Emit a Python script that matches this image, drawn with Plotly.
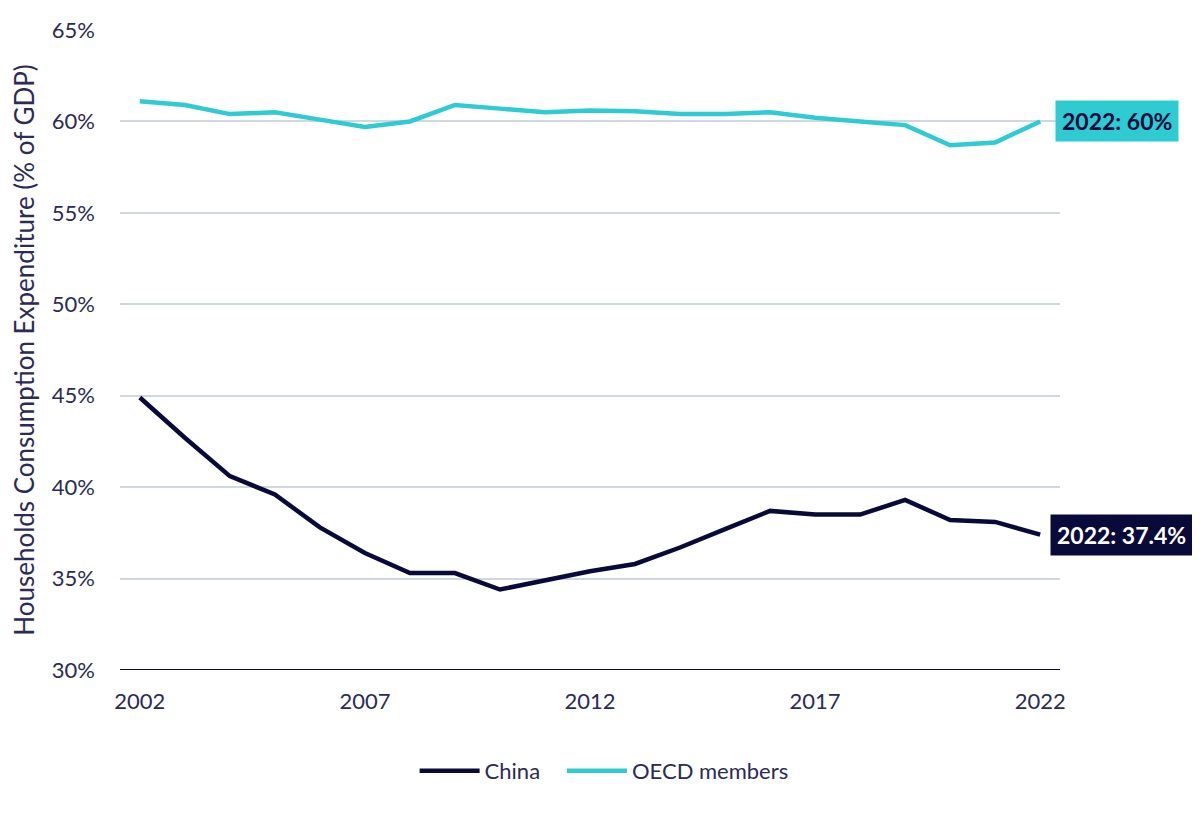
import plotly.graph_objects as go

# household consumption expenditure, % of GDP
years = list(range(2002, 2023))
china = [44.9, 42.7, 40.6, 39.6, 37.8, 36.4, 35.3, 35.3, 34.4, 34.9, 35.4,
         35.8, 36.7, 37.7, 38.7, 38.5, 38.5, 39.3, 38.2, 38.1, 37.4]
oecd = [61.1, 60.9, 60.4, 60.5, 60.1, 59.7, 60.0, 60.9, 60.7, 60.5, 60.6,
        60.55, 60.4, 60.4, 60.5, 60.2, 60.0, 59.8, 58.7, 58.85, 60.0]

y_ticks = [30, 35, 40, 45, 50, 55, 60, 65]
x_ticks = [2002, 2007, 2012, 2017, 2022]

navy = "#0a0a3a"
cyan = "#2ecbd3"
txt = "#2b2b55"

fig = go.Figure()
# trailing nbsp just widens the gap between the two legend entries
fig.add_trace(go.Scatter(x=years, y=china, name="China\u00a0\u00a0\u00a0",
                         mode="lines", line=dict(color=navy, width=4.5)))
fig.add_trace(go.Scatter(x=years, y=oecd, name="OECD members", mode="lines",
                         line=dict(color=cyan, width=4.5)))

fig.add_annotation(x=years[-1], y=oecd[-1], text="<b>2022: 60%</b>",
                   showarrow=False, xanchor="left", xshift=15,
                   bgcolor=cyan, font=dict(color=navy, size=23),
                   borderpad=6)
fig.add_annotation(x=years[-1], y=china[-1], text="<b>2022: 37.4%</b>",
                   showarrow=False, xanchor="left", xshift=10,
                   bgcolor=navy, font=dict(color="white", size=23),
                   borderpad=6)

fig.update_layout(
    width=1200, height=816,
    paper_bgcolor="white", plot_bgcolor="white",
    margin=dict(l=112, r=148, t=22, b=154),
    font=dict(family="Lato", size=22, color=txt),
    showlegend=True,
    legend=dict(orientation="h", x=0.515, xanchor="center", y=-0.125,
                yanchor="top", font=dict(size=22, color=txt),
                itemwidth=60),
)
fig.update_xaxes(range=[2001.56, 2022.44], tickvals=x_ticks,
                 showgrid=False, zeroline=False, ticks="",
                 ticklabelstandoff=16, automargin=False,
                 tickfont=dict(size=22, color=txt))
fig.update_yaxes(range=[30, 65], tickvals=y_ticks,
                 ticktext=[f"{v}%" for v in y_ticks],
                 showgrid=True, gridcolor="#cfd8e0", gridwidth=2,
                 zeroline=False, showline=False, ticks="",
                 ticklabelstandoff=24, automargin=False,
                 tickfont=dict(size=22, color=txt),
                 title=dict(text="Households Consumption Expenditure (% of GDP)",
                            font=dict(size=26, color=txt)))
# dark baseline at 30%
fig.add_shape(type="line", xref="paper", yref="y", x0=0, x1=1, y0=30, y1=30,
              line=dict(color=navy, width=2), layer="above")

fig.write_html("out.html")
